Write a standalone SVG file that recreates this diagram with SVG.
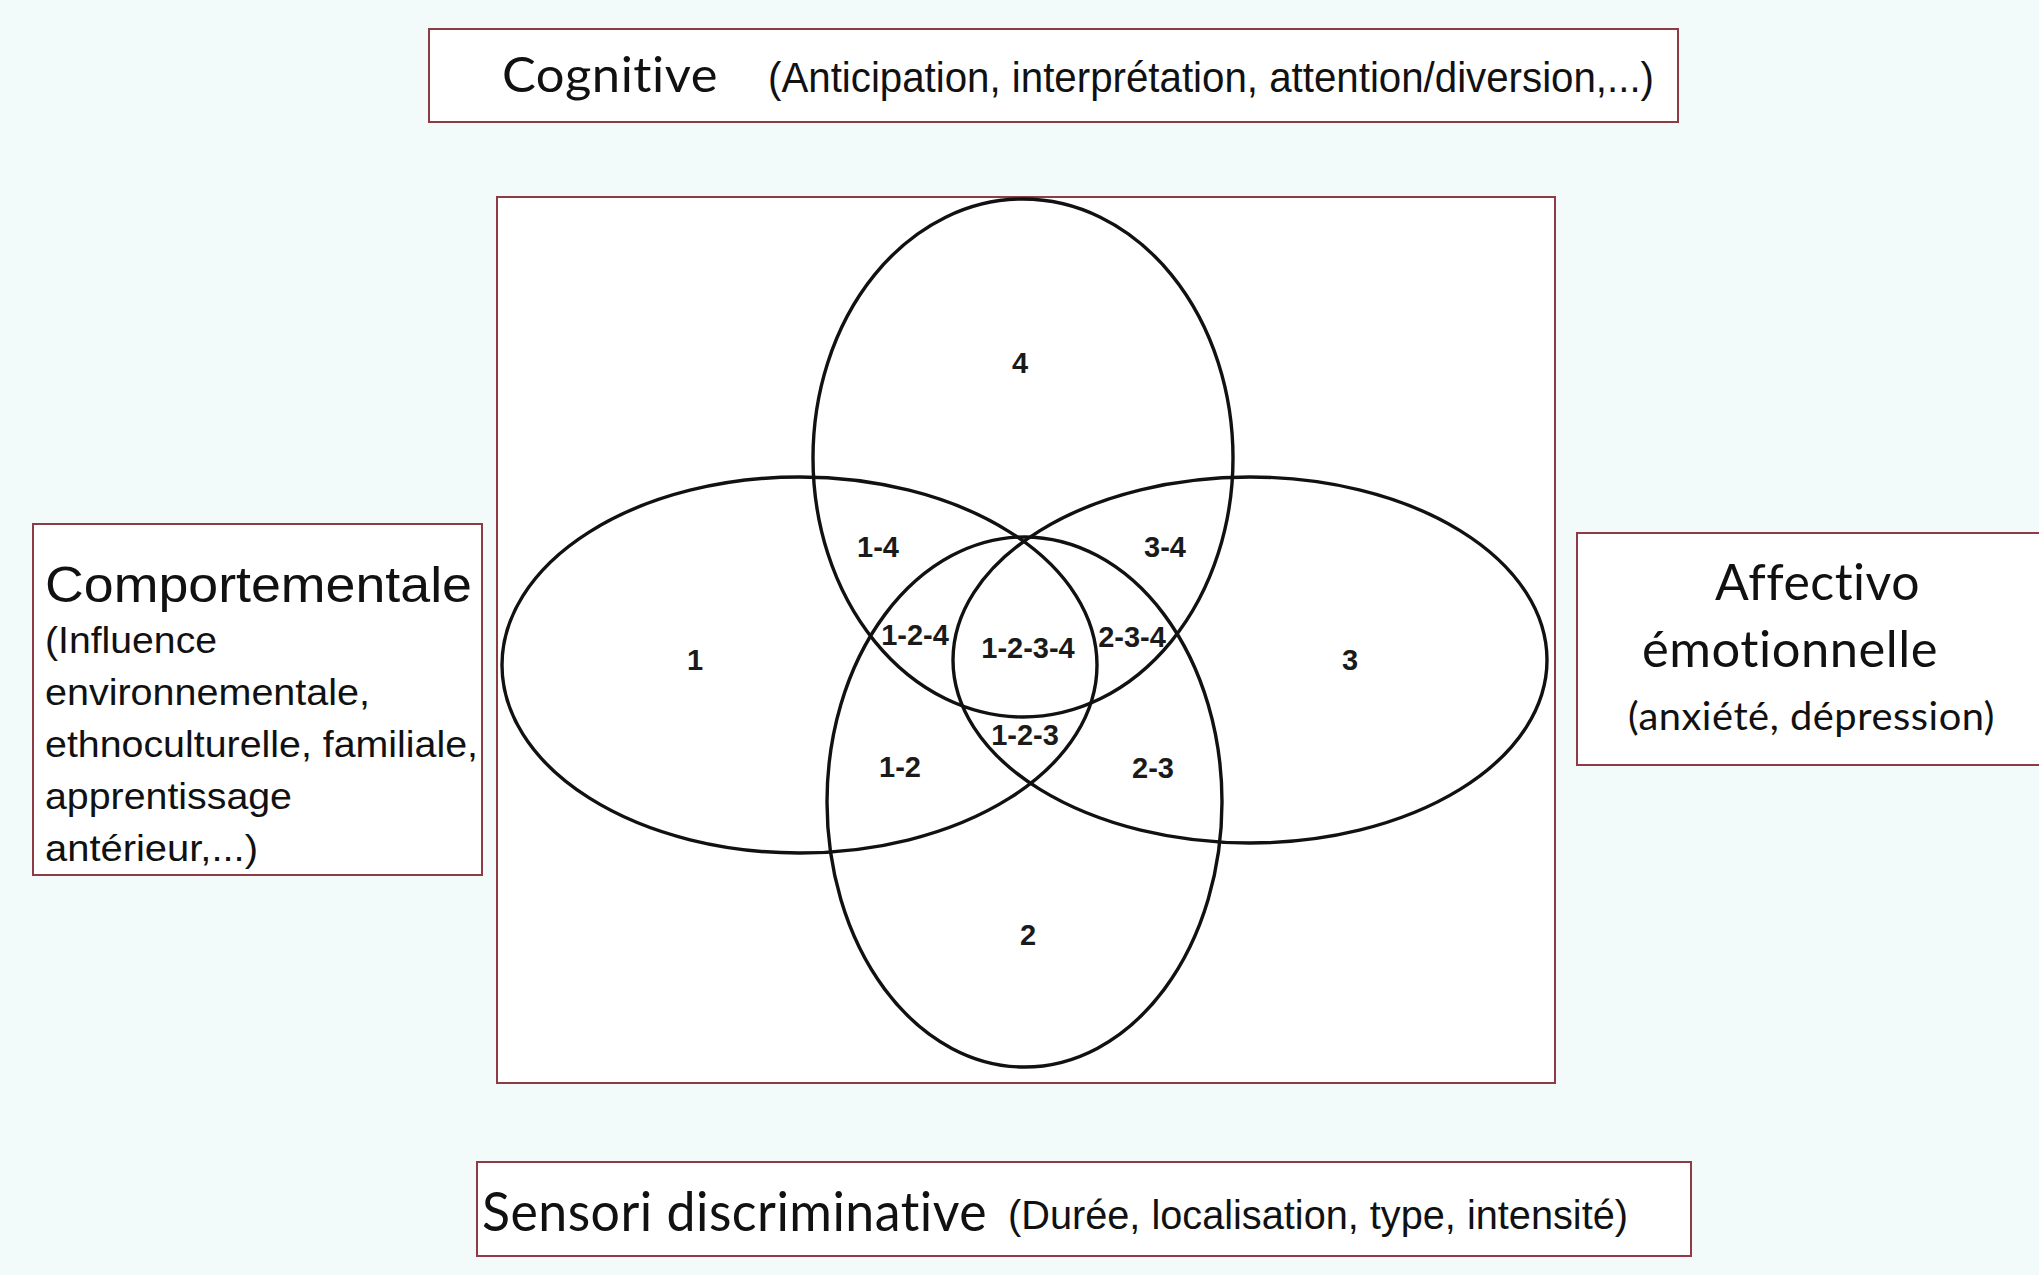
<svg xmlns="http://www.w3.org/2000/svg" width="2039" height="1275" viewBox="0 0 2039 1275">
<style>
.box{fill:#ffffff;stroke:#8e3b46;stroke-width:2}
.ell{fill:none;stroke:#111111;stroke-width:3.4}
.gill{font-family:Lato,"Open Sans","Liberation Sans",sans-serif;fill:#111111;font-variant-ligatures:none;font-feature-settings:"liga" 0,"dlig" 0,"clig" 0;letter-spacing:0.5px}
.arial{font-family:"Liberation Sans",Arial,sans-serif;fill:#111111}
.lbl{font-family:"Liberation Sans",Arial,sans-serif;font-weight:bold;font-size:29px;fill:#1a1a1a;text-anchor:middle}
</style>
<rect x="0" y="0" width="2039" height="1275" fill="#f3fafa"/>

<g id="node-cognitive">
<rect class="box" x="429" y="29" width="1249" height="93"/>
<text class="gill" x="502" y="92" font-size="48" textLength="216" lengthAdjust="spacingAndGlyphs">Cognitive</text>
<text class="arial" x="768" y="92" font-size="43" textLength="886" lengthAdjust="spacingAndGlyphs">(Anticipation, interprétation, attention/diversion,...)</text>
</g>

<g id="node-comportementale">
<rect class="box" x="33" y="524" width="449" height="351"/>
<text class="arial" x="45" y="602" font-size="50" textLength="427" lengthAdjust="spacingAndGlyphs">Comportementale</text>
<text class="arial" x="45" y="653" font-size="37" textLength="172" lengthAdjust="spacingAndGlyphs">(Influence</text>
<text class="arial" x="45" y="705" font-size="37" textLength="325" lengthAdjust="spacingAndGlyphs">environnementale,</text>
<text class="arial" x="45" y="757" font-size="37" textLength="433" lengthAdjust="spacingAndGlyphs">ethnoculturelle, familiale,</text>
<text class="arial" x="45" y="809" font-size="37" textLength="247" lengthAdjust="spacingAndGlyphs">apprentissage</text>
<text class="arial" x="45" y="861" font-size="37" textLength="213" lengthAdjust="spacingAndGlyphs">antérieur,...)</text>
</g>

<g id="node-affectivo">
<rect class="box" x="1577" y="533" width="470" height="232"/>
<text class="gill" x="1715" y="600" font-size="50" textLength="205" lengthAdjust="spacingAndGlyphs">Affectivo</text>
<text class="gill" x="1642" y="667" font-size="50" textLength="296" lengthAdjust="spacingAndGlyphs">émotionnelle</text>
<text class="gill" x="1628" y="730" font-size="38" textLength="367" lengthAdjust="spacingAndGlyphs">(anxiété, dépression)</text>
</g>

<g id="node-sensori">
<rect class="box" x="477" y="1162" width="1214" height="94"/>
<text class="gill" x="482" y="1231" font-size="54" textLength="505" lengthAdjust="spacingAndGlyphs">Sensori discriminative</text>
<text class="arial" x="1008" y="1229" font-size="40" textLength="620" lengthAdjust="spacingAndGlyphs">(Durée, localisation, type, intensité)</text>
</g>

<g id="node-venn">
<rect class="box" x="497" y="197" width="1058" height="886" stroke-width="1.5"/>
<ellipse id="ellipse-4" class="ell" cx="1023" cy="458" rx="210" ry="259"/>
<ellipse id="ellipse-2" class="ell" cx="1024.5" cy="802" rx="197.5" ry="265"/>
<ellipse id="ellipse-1" class="ell" cx="799.5" cy="665" rx="297.5" ry="188"/>
<ellipse id="ellipse-3" class="ell" cx="1250" cy="660" rx="297" ry="183"/>
<text class="lbl" x="1020" y="373">4</text>
<text class="lbl" x="695" y="670">1</text>
<text class="lbl" x="1350" y="670">3</text>
<text class="lbl" x="1028" y="945">2</text>
<text class="lbl" x="878" y="557">1-4</text>
<text class="lbl" x="1165" y="557">3-4</text>
<text class="lbl" x="915" y="645">1-2-4</text>
<text class="lbl" x="1028" y="658">1-2-3-4</text>
<text class="lbl" x="1132" y="647">2-3-4</text>
<text class="lbl" x="1025" y="745">1-2-3</text>
<text class="lbl" x="900" y="777">1-2</text>
<text class="lbl" x="1153" y="778">2-3</text>
</g>

<g id="connectors"/>
</svg>
